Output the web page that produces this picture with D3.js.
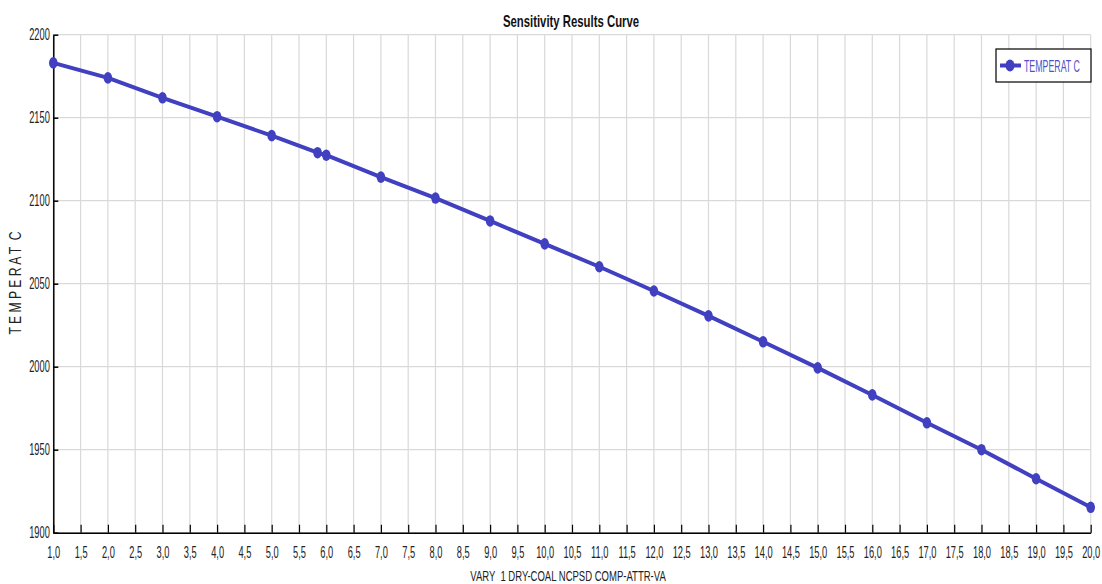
<!DOCTYPE html>
<html>
<head>
<meta charset="utf-8">
<script src="https://cdn.jsdelivr.net/npm/d3@7/dist/d3.min.js"></script>
<style>
  html, body { margin: 0; padding: 0; background: #fff; }
  svg { display: block; }
  text { font-family: "Liberation Sans", Arial, sans-serif; white-space: pre; }
</style>
</head>
<body>
<svg id="chart" width="1102" height="584"></svg>
<script>
// Sensitivity run: coal composition attribute vs. temperature
const varyValues = [1.0, 2.0, 3.0, 4.0, 5.0, 5.84, 6.0, 7.0, 8.0, 9.0, 10.0, 11.0, 12.0, 13.0, 14.0, 15.0, 16.0, 17.0, 18.0, 19.0, 20.0];
const temperatures = [2183.0, 2174.0, 2162.0, 2150.6, 2139.2, 2128.9, 2127.4, 2114.2, 2101.6, 2087.8, 2074.0, 2060.2, 2045.6, 2030.6, 2015.0, 1999.3, 1983.0, 1966.2, 1950.0, 1932.5, 1915.3];
const xTickValues = d3.range(1.0, 20.01, 0.5);
const yTickValues = [1900, 1950, 2000, 2050, 2100, 2150, 2200];
const seriesName = "TEMPERAT C";
const chartTitle = "Sensitivity Results Curve";
const xAxisTitle = "VARY  1 DRY-COAL NCPSD COMP-ATTR-VA";
const yAxisTitle = "T E M P E R A T  C";

const svg = d3.select("#chart");
const plot = { left: 53.3, right: 1090.7, top: 34.7, bottom: 532.7 };
const lineColor = "#4040c0";

const x = d3.scaleLinear().domain([1, 20]).range([plot.left, plot.right]);
const y = d3.scaleLinear().domain([1900, 2200]).range([plot.bottom, plot.top]);

// condensed text: horizontal squeeze around the text's own anchor
function label(parent, str, tx, ty, size, squeeze, opts = {}) {
  const g = parent.append("g")
    .attr("transform", `translate(${tx},${ty})${opts.rotate ? ` rotate(${opts.rotate})` : ""} scale(${squeeze},1)`);
  return g.append("text")
    .attr("text-anchor", opts.anchor || "middle")
    .attr("font-size", size)
    .attr("font-weight", opts.weight || "normal")
    .attr("fill", opts.fill || "#222")
    .text(str);
}

// grid
const grid = svg.append("g");
grid.selectAll("line.v").data(xTickValues).join("line")
  .attr("x1", d => x(d)).attr("x2", d => x(d))
  .attr("y1", plot.top).attr("y2", plot.bottom)
  .attr("stroke", "#d9d9d9").attr("stroke-width", 1.2);
grid.selectAll("line.h").data(yTickValues).join("line")
  .attr("x1", plot.left).attr("x2", plot.right)
  .attr("y1", d => y(d)).attr("y2", d => y(d))
  .attr("stroke", "#d9d9d9").attr("stroke-width", 1.2);

// x axis (ticks pointing into the plot)
const fmt = d => d.toFixed(1).replace(".", ",");
const xAxis = svg.append("g").attr("transform", `translate(0,${plot.bottom})`)
  .call(d3.axisBottom(x).tickValues(xTickValues).tickFormat(fmt).tickSizeInner(-8).tickSizeOuter(0).tickPadding(14));
xAxis.select(".domain").attr("stroke", "#000").attr("stroke-width", 1.5);
xAxis.selectAll(".tick line").attr("stroke", "#000").attr("stroke-width", 1.2);
xAxis.selectAll(".tick text").attr("font-size", 16).attr("fill", "#222")
  .attr("transform", "scale(0.58,1)");

// y axis (short ticks pointing into the plot)
const yAxis = svg.append("g").attr("transform", `translate(${plot.left},0)`)
  .call(d3.axisLeft(y).tickValues(yTickValues).tickFormat(d3.format("d")).tickSizeInner(-5).tickSizeOuter(0).tickPadding(6));
yAxis.select(".domain").attr("stroke", "#000").attr("stroke-width", 1.5);
yAxis.selectAll(".tick line").attr("stroke", "#000").attr("stroke-width", 1.5);
yAxis.selectAll(".tick text").attr("font-size", 16).attr("fill", "#222")
  .attr("transform", "scale(0.58,1)");

// titles
label(svg, chartTitle, 571, 26.5, 16, 0.71, { weight: "bold", fill: "#111" });
label(svg, xAxisTitle, 568, 580.5, 14, 0.68);
label(svg, yAxisTitle, 21, 283, 16, 0.76, { rotate: -90 });

// series
const pts = varyValues.map((v, i) => [v, temperatures[i]]);
svg.append("path").datum(pts)
  .attr("fill", "none").attr("stroke", lineColor).attr("stroke-width", 4)
  .attr("stroke-linejoin", "round")
  .attr("d", d3.line().x(d => x(d[0])).y(d => y(d[1])));
svg.selectAll("ellipse.pt").data(pts).join("ellipse")
  .attr("cx", d => x(d[0])).attr("cy", d => y(d[1]))
  .attr("rx", 4.3).attr("ry", 5.8).attr("fill", lineColor);

// legend
const lg = svg.append("g");
lg.append("rect").attr("x", 996).attr("y", 49).attr("width", 95).attr("height", 33)
  .attr("fill", "#fff").attr("stroke", "#000").attr("stroke-width", 1.2);
lg.append("line").attr("x1", 1000).attr("x2", 1021).attr("y1", 65.5).attr("y2", 65.5)
  .attr("stroke", lineColor).attr("stroke-width", 4);
lg.append("ellipse").attr("cx", 1010).attr("cy", 65.5).attr("rx", 4.5).attr("ry", 6).attr("fill", lineColor);
label(lg, seriesName, 1024, 71.5, 16, 0.55, { anchor: "start", fill: "#5050c8" });
</script>
</body>
</html>
